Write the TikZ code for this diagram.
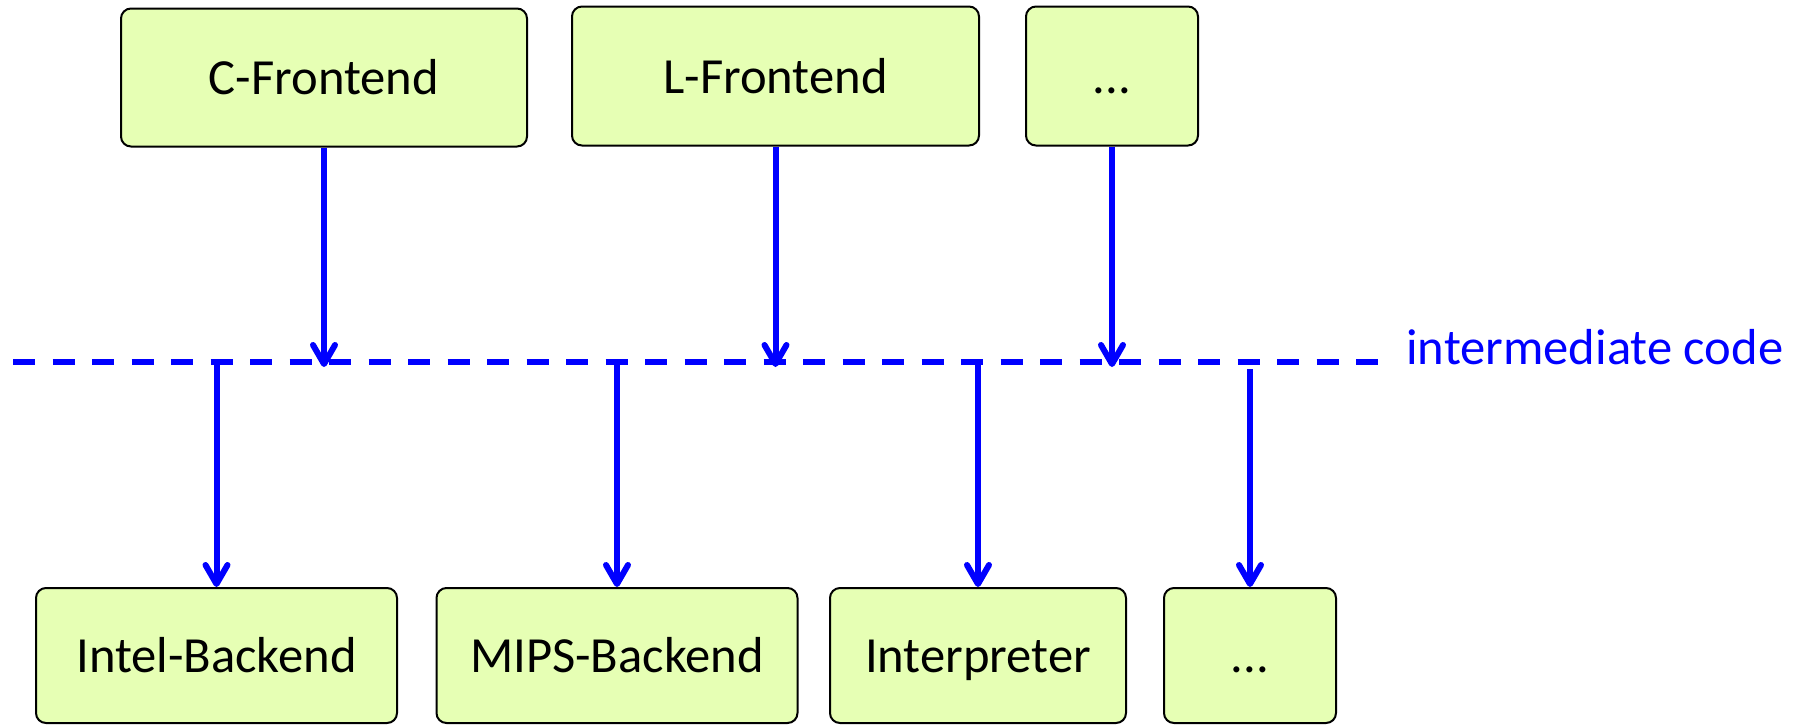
\documentclass[tikz,border=0pt]{standalone}
\usepackage{fontspec}
\setmainfont{Carlito}
\usetikzlibrary{arrows.meta}
\definecolor{boxfill}{RGB}{230,255,180}
\definecolor{flowblue}{RGB}{0,0,255}
\begin{document}
\begin{tikzpicture}[x=0.5pt,y=-0.5pt,
  block/.style={draw=black, line width=1pt, fill=boxfill, rounded corners=5pt,
    inner sep=0pt, text height=18.5pt, text depth=1.5pt,
    font=\fontsize{25.3}{30}\selectfont},
  flow/.style={draw=flowblue, line width=3pt,
    -{Straight Barb[length=9.5pt,width=11pt,round]}},
  bus/.style={draw=flowblue, line width=3pt, dash pattern=on 11pt off 8.75pt},
]
\useasboundingbox (0,0) rectangle (1796,725);

% front ends
\node[block, minimum width=203pt, minimum height=69pt] (cf) at (324,77.5) {C-Frontend};
\node[block, minimum width=203.5pt, minimum height=69.5pt] (lf) at (775.5,76) {L-Frontend};
\node[block, minimum width=86pt, minimum height=69.5pt] (xf) at (1112,76) {.{}.{}.};

% back ends
\node[block, minimum width=180.5pt, minimum height=67.5pt] (ib) at (216.5,655.5) {Intel-Backend};
\node[block, minimum width=180.5pt, minimum height=67.5pt] (mb) at (617,655.5) {MIPS-Backend};
\node[block, minimum width=148pt, minimum height=67.5pt] (ip) at (978,655.5) {Interpreter};
\node[block, minimum width=86pt, minimum height=67.5pt] (xb) at (1250,655.5) {.{}.{}.};

% intermediate code bus
\coordinate (busL) at (13,362);
\coordinate (busR) at (1378,362);
\coordinate (tipT) at (0,367);
\coordinate (gapB) at (0,369);
\draw[bus] (busL) -- (busR);
\node[anchor=base west, text=flowblue, inner sep=0pt,
  font=\fontsize{25.3}{30}\selectfont] (ic) at (1406,364) {intermediate code};

% front ends feed the bus
\draw[flow] (cf.south) -- (cf.south |- tipT);
\draw[flow] (lf.south) -- (lf.south |- tipT);
\draw[flow] (xf.south) -- (xf.south |- tipT);

% bus feeds the back ends
\draw[flow] (ib.north |- busL) -- (ib.north);
\draw[flow] (mb.north |- busL) -- (mb.north);
\draw[flow] (ip.north |- busL) -- (ip.north);
\draw[flow] (xb.north |- gapB) -- (xb.north);
\end{tikzpicture}
\end{document}
